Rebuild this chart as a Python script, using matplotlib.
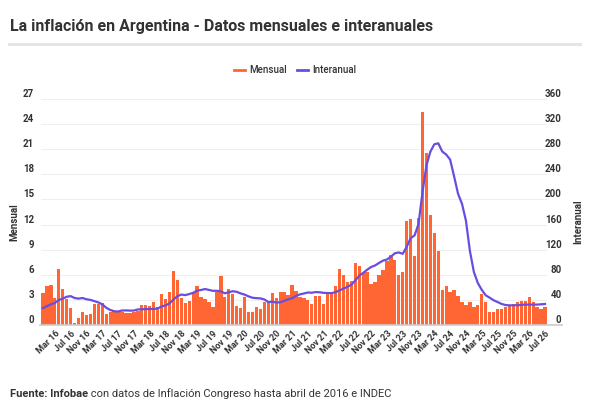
import matplotlib
matplotlib.use('Agg')
import matplotlib.pyplot as plt
from matplotlib.lines import Line2D

plt.rcParams['font.family'] = ['Roboto', 'DejaVu Sans']

# Inflación mensual (%), dic-15 a jul-26
mensual = [3.8, 4.6, 4.8, 3.2, 6.7, 4.3, 3.1, 2.0, 0.2, 0.8,
           1.6, 1.2, 1.3, 2.5, 2.5, 2.6, 1.3, 1.5, 1.7, 1.6,
           1.5, 1.4, 1.4, 1.6, 1.7, 2.35, 2.35, 2.3, 2.7, 2.1,
           3.7, 3.1, 3.9, 6.5, 5.4, 3.2, 2.6, 2.9, 3.8, 4.7,
           3.4, 3.1, 2.7, 2.2, 4.0, 5.9, 3.3, 4.3, 3.7, 2.3,
           2.0, 3.3, 1.5, 1.5, 2.2, 1.9, 2.7, 2.8, 3.8, 3.2,
           4.0, 4.0, 3.6, 4.8, 4.1, 3.3, 3.2, 3.0, 2.5, 3.5,
           3.5, 2.5, 3.8, 3.9, 4.7, 6.7, 6.0, 5.1, 5.3, 7.4,
           7.0, 6.2, 6.3, 4.9, 5.1, 6.0, 6.6, 7.7, 8.4, 7.8,
           6.0, 6.3, 12.4, 12.7, 8.3, 12.8, 25.5, 20.6, 13.2, 11.0,
           8.8, 4.2, 4.6, 4.0, 4.2, 3.5, 2.7, 2.4, 2.7, 2.2,
           2.4, 3.7, 2.8, 1.5, 1.6, 1.9, 1.9, 2.1, 2.3, 2.5,
           2.8, 2.9, 2.9, 3.4, 2.8, 2.1, 1.95, 2.1]

# Inflación interanual (%)
interanual = [27,
              30, 33, 35, 40, 42, 45, 46, 43, 42, 43, 41, 40,
              38, 36, 33, 27.5, 24.0, 21.9, 21.5, 23.1, 23.2, 22.9, 23.0, 24.8,
              25.0, 25.4, 25.4, 25.5, 26.3, 29.5, 31.2, 34.4, 40.5, 45.9, 48.5, 47.6,
              49.3, 51.3, 54.7, 55.8, 57.3, 55.8, 54.4, 54.5, 53.5, 50.5, 52.1, 53.8,
              52.9, 50.3, 48.4, 45.6, 43.4, 42.8, 42.4, 40.7, 36.6, 37.2, 35.8, 36.1,
              38.5, 40.7, 42.6, 46.3, 48.8, 50.2, 51.8, 51.4, 52.5, 52.1, 51.2, 50.9,
              50.7, 52.3, 55.1, 58.0, 60.7, 64.0, 71.0, 78.5, 83.0, 88.0, 92.4, 94.8,
              98.8, 102.5, 104.3, 108.8, 114.2, 115.6, 113.4, 124.4, 138.3, 142.7, 160.9, 211.4,
              254.2, 276.2, 287.9, 289.4, 276.4, 271.5, 263.4, 236.7, 209.0, 193.0, 166.0, 117.8,
              84.5, 66.9, 55.9, 47.3, 43.5, 39.4, 36.6, 33.6, 31.8, 31.3, 31.4, 31.5,
              32.0, 32.5, 32.5, 32.5, 32.5, 33.0, 33.5]

etiquetas = ['Mar 16', 'Jul 16', 'Nov 16', 'Mar 17', 'Jul 17', 'Nov 17',
             'Mar 18', 'Jul 18', 'Nov 18', 'Mar 19', 'Jul 19', 'Nov 19',
             'Mar 20', 'Jul 20', 'Nov 20', 'Mar 21', 'Jul 21', 'Nov 21',
             'Mar 22', 'Jul 22', 'Nov 22', 'Mar 23', 'Jul 23', 'Nov 23',
             'Mar 24', 'Jul 24', 'Nov 24', 'Mar 25', 'Jul 25', 'Nov 25',
             'Mar 26', 'Jul 26']

NARANJA = '#ff6633'
VIOLETA = '#6a4de0'
GRIS = '#333333'
W, H = 593, 407

fig = plt.figure(figsize=(W / 100, H / 100), dpi=100)
ax = fig.add_axes([41 / W, 1 - 325 / H, 506 / W, 226 / H])

x = list(range(len(mensual)))
ax.bar(x, mensual, width=0.84, color=NARANJA, zorder=2)
ax.set_xlim(-0.5, len(mensual) - 0.5)
ax.set_ylim(0, 27)
ax.set_yticks(range(0, 28, 3))
ax.grid(axis='y', color='#efefef', lw=0.8)
ax.set_axisbelow(True)

ax2 = ax.twinx()
ax2.plot(x, interanual, color=VIOLETA, lw=1.6, zorder=3)
ax2.set_ylim(0, 360)
ax2.set_yticks(range(0, 361, 40))

for a in (ax, ax2):
    for s in a.spines.values():
        s.set_visible(False)

# etiquetas de los ejes
ax.tick_params(axis='y', length=0, pad=5, labelsize=7, labelcolor=GRIS)
ax2.tick_params(axis='y', length=0, pad=10.5, labelsize=7, labelcolor=GRIS)
plt.setp(ax.get_yticklabels(), fontweight='bold', va='bottom')
plt.setp(ax2.get_yticklabels(), fontweight='bold', va='bottom', ha='right')

ax.set_xticks(range(3, len(mensual), 4))
ax.set_xticklabels(etiquetas, rotation=45, ha='right', rotation_mode='anchor',
                   fontsize=6.5, fontweight='bold', color=GRIS)
ax.tick_params(axis='x', length=0, pad=3)

# linea base
ax.plot([-0.002, (562 - 41) / 506], [0, 0], transform=ax.transAxes,
        color='#cccccc', lw=1.2, clip_on=False, zorder=4)

fig.text(14 / W, 1 - 222 / H, 'Mensual', rotation=90, ha='center', va='center',
         fontsize=7, fontweight='bold', color=GRIS)
fig.text(578 / W, 1 - 222 / H, 'Interanual', rotation=90, ha='center', va='center',
         fontsize=7, fontweight='bold', color=GRIS)

# leyenda
manejadores = [Line2D([], [], color=NARANJA, lw=2),
               Line2D([], [], color=VIOLETA, lw=2)]
fig.legend(manejadores, ['Mensual', 'Interanual'], loc='center',
           bbox_to_anchor=(295 / W, 1 - 70 / H), ncol=2, frameon=False,
           handlelength=1.2, handletextpad=0.4, columnspacing=1.0,
           prop={'size': 7, 'weight': 'medium'}, labelcolor=GRIS)

# titulo y separador
fig.text(10 / W, 1 - 31 / H, 'La inflación en Argentina - Datos mensuales e interanuales',
         fontsize=11.5, fontweight='bold', color=GRIS, va='baseline')
fig.add_artist(Line2D([9 / W, 580 / W], [1 - 44 / H, 1 - 44 / H],
                      color='#e5e5e5', lw=2.2))

# fuente
t1 = fig.text(10 / W, 1 - 397 / H, 'Fuente: Infobae', fontsize=8,
              fontweight='bold', color=GRIS, va='baseline')
ax.annotate(' con datos de Inflación Congreso hasta abril de 2016 e INDEC',
            xy=(1, 0), xycoords=t1, va='bottom', fontsize=8, color=GRIS,
            annotation_clip=False)

fig.savefig('out.png', dpi=100)
